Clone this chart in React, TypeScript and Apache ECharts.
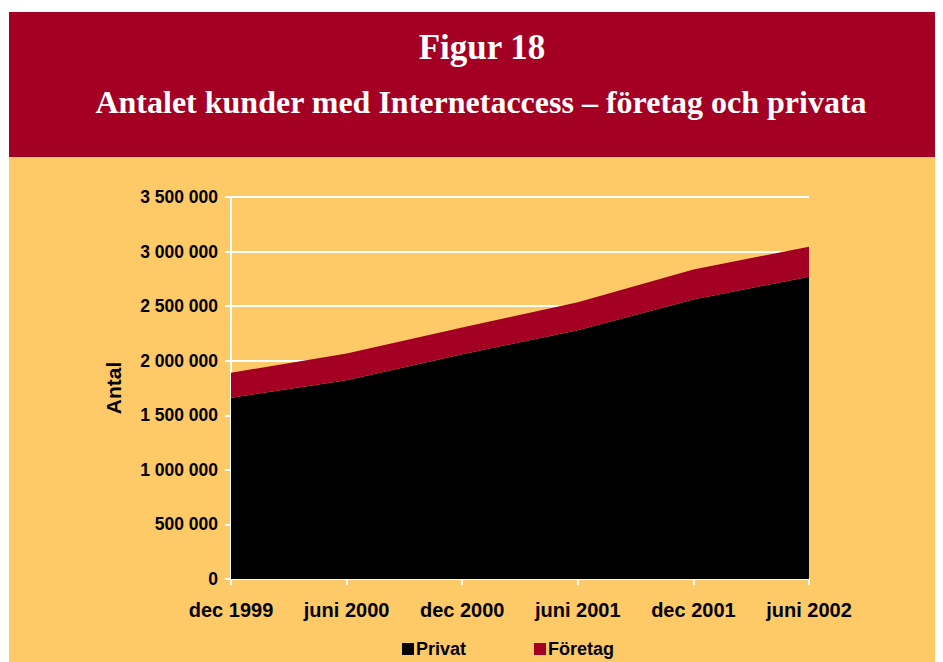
import React, { useEffect, useRef } from "react";
import * as echarts from "echarts";

const categories = ["dec 1999", "juni 2000", "dec 2000", "juni 2001", "dec 2001", "juni 2002"];
const privat = [1660000, 1820000, 2060000, 2280000, 2560000, 2770000];
const foretag = [230000, 247000, 245000, 255000, 275000, 275000];
const titleText = "Figur 18";
const subtitleText = "Antalet kunder med Internetaccess – företag och privata";

const RED = "#A30023";
const YELLOW = "#FECA67";

function fmt(v: number) {
  return String(v).replace(/\B(?=(\d{3})+(?!\d))/g, " ");
}

export default function App() {
  const ref = useRef<HTMLDivElement>(null);
  useEffect(() => {
    if (!ref.current) return;
    const chart = echarts.init(ref.current, undefined, { renderer: "svg" });
    chart.setOption({
      animation: false,
      backgroundColor: "#ffffff",
      graphic: [
        { type: "rect", z: -10, shape: { x: 1, y: 4, width: 934, height: 145 }, style: { fill: RED } },
        { type: "rect", z: -10, shape: { x: 1, y: 149, width: 934, height: 505 }, style: { fill: YELLOW } },
        {
          type: "text",
          x: 474,
          y: 39,
          style: {
            text: titleText,
            fill: "#ffffff",
            font: "bold 35px 'Liberation Serif', 'Times New Roman', serif",
            align: "center",
            verticalAlign: "middle",
          },
        },
        {
          type: "text",
          x: 473,
          y: 94,
          style: {
            text: subtitleText,
            fill: "#ffffff",
            font: "bold 32px 'Liberation Serif', 'Times New Roman', serif",
            align: "center",
            verticalAlign: "middle",
          },
        },
      ],
      legend: {
        data: ["Privat", "Företag"],
        left: 389,
        top: 627,
        icon: "rect",
        itemWidth: 12,
        itemHeight: 12,
        itemGap: 68,
        textStyle: { color: "#000", fontWeight: "bold", fontSize: 18, fontFamily: "'Liberation Sans', Arial, sans-serif", padding: [0, 0, 0, -3] },
      },
      grid: { left: 223, top: 189, width: 578, height: 382, containLabel: false },
      xAxis: {
        type: "category",
        data: categories,
        boundaryGap: false,
        axisLine: { lineStyle: { color: "#fff", width: 2 } },
        axisTick: { show: true, alignWithLabel: true, length: 6, lineStyle: { color: "#fff", width: 2 } },
        axisLabel: {
          color: "#000",
          fontWeight: "bold",
          fontSize: 20,
          fontFamily: "'Liberation Sans', Arial, sans-serif",
          margin: 21,
        },
        splitLine: { show: false },
      },
      yAxis: {
        type: "value",
        min: 0,
        max: 3500000,
        interval: 500000,
        name: "Antal",
        nameLocation: "middle",
        nameGap: 107,
        nameRotate: 90,
        nameTextStyle: { color: "#000", fontWeight: "bold", fontSize: 21, fontFamily: "'Liberation Sans', Arial, sans-serif" },
        axisLine: { show: true, lineStyle: { color: "#fff", width: 2 } },
        axisTick: { show: true, length: 6, lineStyle: { color: "#fff", width: 2 } },
        axisLabel: {
          color: "#000",
          fontWeight: "bold",
          fontSize: 17.5,
          fontFamily: "'Liberation Sans', Arial, sans-serif",
          margin: 13,
          formatter: (v: number) => fmt(v),
        },
        splitLine: { show: true, lineStyle: { color: "#fff", width: 2 } },
      },
      series: [
        {
          name: "Privat",
          type: "line",
          stack: "total",
          data: privat,
          showSymbol: false,
          symbol: "none",
          lineStyle: { width: 0 },
          itemStyle: { color: "#000" },
          areaStyle: { color: "#000", opacity: 1 },
        },
        {
          name: "Företag",
          type: "line",
          stack: "total",
          data: foretag,
          showSymbol: false,
          symbol: "none",
          lineStyle: { width: 0 },
          itemStyle: { color: RED },
          areaStyle: { color: RED, opacity: 1 },
        },
      ],
    });
    return () => chart.dispose();
  }, []);
  return <div ref={ref} style={{ width: 935, height: 654 }} />;
}
